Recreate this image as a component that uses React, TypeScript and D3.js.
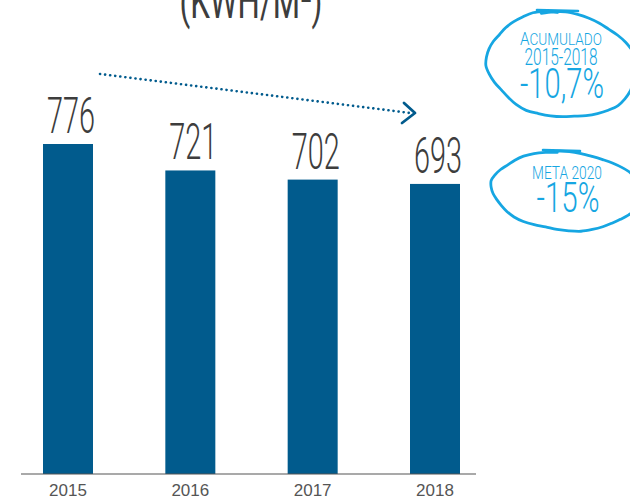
import React from "react";
import * as d3 from "d3";

const years = ["2015", "2016", "2017", "2018"];
const values = [776, 721, 702, 693];
const valueLabels = ["776", "721", "702", "693"];
const titleText = "(KWH/M²)";
const note1Lines = ["2015-2018", "-10,7%"];
const note2Lines = ["META 2020", "-15%"];

const W = 630;
const H = 499;
const BAR_COLOR = "#015b8d";
const LIGHT = "#16a6e2";
const DARK = "#3d3d3d";
const HAND = "Roboto";

function loopPath(cx: number, cy: number, rx: number, ry: number, rot: number, a0: number, a1: number, wobble: number[]) {
  const pts: [number, number][] = [];
  const n = 40;
  const r = (rot * Math.PI) / 180;
  for (let i = 0; i <= n; i++) {
    const t = a0 + ((a1 - a0) * i) / n;
    const w = wobble[i % wobble.length];
    const ex = Math.cos(t) * (rx + w);
    const ey = Math.sin(t) * (ry + w * 0.6);
    pts.push([cx + ex * Math.cos(r) - ey * Math.sin(r), cy + ex * Math.sin(r) + ey * Math.cos(r)]);
  }
  return d3.line().curve(d3.curveCatmullRom)(pts) || "";
}

export default function App() {
  const x = d3.scalePoint<string>().domain(years).range([68, 435]);
  const y = d3.scaleLinear().domain([90, 776]).range([474, 144]);
  const bw = 50;

  const wob1 = [0, 1, 2, 1, 0, -1, -2, -1, 0, 1, 3, 2, 0, -1];
  const wob2 = [0, 1, 1, 0, -1, -1, 0, 1, 2, 1, 0, -1];

  return (
    <svg width={W} height={H} style={{ position: "absolute", left: 0, top: 0 }}>
      <rect width={W} height={H} fill="#fff" />
      {/* title */}
      <text x={251} y={18} fill={DARK} fontFamily={HAND} fontWeight={400} fontSize={50}
        textAnchor="middle" textLength={143} lengthAdjust="spacingAndGlyphs">{titleText}</text>

      {/* bars */}
      {years.map((yr, i) => (
        <rect key={yr} x={(x(yr) as number) - bw / 2} y={y(values[i])} width={bw}
          height={y(90) - y(values[i])} fill={BAR_COLOR} />
      ))}
      {/* value labels */}
      {years.map((yr, i) => (
        <text key={"v" + yr} x={(x(yr) as number) + 3} y={y(values[i]) - 11} fill={DARK}
          fontFamily={HAND} fontWeight={300} fontSize={50} textAnchor="middle"
          textLength={48} lengthAdjust="spacingAndGlyphs">{valueLabels[i]}</text>
      ))}
      {/* axis */}
      <line x1={21} x2={476} y1={y(90)} y2={y(90)} stroke="#555" strokeWidth={1.2} />
      {years.map((yr) => (
        <text key={"t" + yr} x={x(yr) as number} y={496} fill="#555"
          fontFamily="Liberation Sans, Arial, sans-serif" fontSize={17} textAnchor="middle">{yr}</text>
      ))}

      {/* dotted arrow */}
      <line x1={100} y1={74} x2={410} y2={113} stroke={BAR_COLOR} strokeWidth={2.6}
        strokeDasharray="0.1 5" strokeLinecap="round" />
      <polyline points="404,103 415,113 402,123" fill="none" stroke={BAR_COLOR} strokeWidth={2.8}
        strokeLinecap="round" strokeLinejoin="round" />

      {/* note 1 */}
      <path d={loopPath(562, 65, 75, 52, 8, -Math.PI * 0.62, Math.PI * 1.45, wob1)} fill="none"
        stroke={LIGHT} strokeWidth={2.8} strokeLinecap="round" />
      <line x1={537} y1={10} x2={578} y2={11} stroke={LIGHT} strokeWidth={2.6} strokeLinecap="round" />
      <text x={561} y={45} fill={LIGHT} fontFamily={HAND} fontWeight={300} textAnchor="middle"
        textLength={82} lengthAdjust="spacingAndGlyphs">
        <tspan fontSize={19}>A</tspan><tspan fontSize={17}>CUMULADO</tspan>
      </text>
      <text x={561} y={65} fill={LIGHT} fontFamily={HAND} fontWeight={300} fontSize={23}
        textAnchor="middle" textLength={73} lengthAdjust="spacingAndGlyphs">{note1Lines[0]}</text>
      <text x={562} y={98} fill={LIGHT} fontFamily={HAND} fontWeight={300} fontSize={42}
        textAnchor="middle" textLength={84} lengthAdjust="spacingAndGlyphs">{note1Lines[1]}</text>

      {/* note 2 */}
      <path d={loopPath(566, 191, 74, 39, 4, -Math.PI * 0.6, Math.PI * 1.45, wob2)} fill="none"
        stroke={LIGHT} strokeWidth={2.8} strokeLinecap="round" />
      <line x1={543} y1={150} x2={580} y2={151} stroke={LIGHT} strokeWidth={2.6} strokeLinecap="round" />
      <text x={567} y={179} fill={LIGHT} fontFamily={HAND} fontWeight={300} fontSize={18}
        textAnchor="middle" textLength={70} lengthAdjust="spacingAndGlyphs">{note2Lines[0]}</text>
      <text x={568} y={212} fill={LIGHT} fontFamily={HAND} fontWeight={300} fontSize={42}
        textAnchor="middle" textLength={63} lengthAdjust="spacingAndGlyphs">{note2Lines[1]}</text>
    </svg>
  );
}
